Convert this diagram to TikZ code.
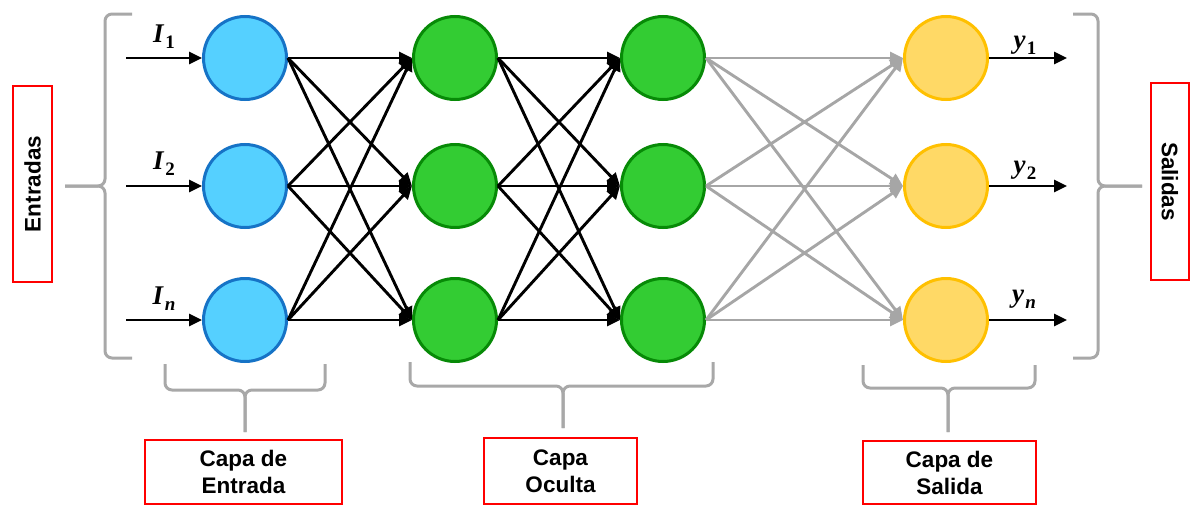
\documentclass[tikz,border=0pt]{standalone}
\usepackage[no-math]{fontspec}
\setmainfont{Liberation Sans}
\newfontfamily\mlfont{Liberation Serif}
\usetikzlibrary{arrows.meta}
\definecolor{inFill}{HTML}{55D0FF}
\definecolor{inDraw}{HTML}{1673C6}
\definecolor{hidFill}{HTML}{33CC33}
\definecolor{hidDraw}{HTML}{078A07}
\definecolor{outFill}{HTML}{FFD966}
\definecolor{outDraw}{HTML}{FFC000}
\definecolor{greyC}{HTML}{A6A6A6}
\definecolor{braceC}{HTML}{A8A8A8}
\newcommand{\mysubl}[2]{\textit{#1}\kern1pt\raisebox{-6pt}{\fontsize{19}{20}\selectfont #2}}
\begin{document}
\begin{tikzpicture}[x=1pt,y=-1pt,
  neuron/.style={circle, minimum size=83pt, inner sep=0pt, line width=3pt},
  inn/.style={neuron, fill=inFill, draw=inDraw},
  hid/.style={neuron, fill=hidFill, draw=hidDraw},
  outn/.style={neuron, fill=outFill, draw=outDraw},
  conn/.style={line width=2.9pt, -{Triangle[length=13pt,width=12pt]}},
  gconn/.style={conn, draw=greyC},
  brace/.style={draw=braceC, line width=3pt, rounded corners=7pt},
  lbl/.style={draw=red, line width=1.3pt, font=\bfseries\fontsize{22.5}{27}\selectfont, align=center, inner sep=0pt},
  mlab/.style={font=\mlfont\bfseries\fontsize{27}{30}\selectfont, anchor=base, inner sep=0pt}
]
\useasboundingbox (0,0) rectangle (1194,506);
% braces
\draw[brace] (132,14) -- (105,14) -- (105,186) -- (65,186);
\draw[brace] (65,186) -- (105,186) -- (105,358) -- (132,358);
\draw[brace] (1073,14) -- (1098,14) -- (1098,186) -- (1142,186);
\draw[brace] (1142,186) -- (1098,186) -- (1098,358) -- (1073,358);
\draw[brace] (165,364) -- (165,390) -- (245,390) -- (245,432);
\draw[brace] (325,364) -- (325,390) -- (245,390) -- (245,432);
\draw[brace] (410,362) -- (410,386) -- (563,386) -- (563,428);
\draw[brace] (713,362) -- (713,386) -- (563,386) -- (563,428);
\draw[brace] (863,365) -- (863,388) -- (948,388) -- (948,432);
\draw[brace] (1035,365) -- (1035,388) -- (948,388) -- (948,432);
% neurons
\foreach \i/\y in {1/58,2/186,3/320}{
  \node[inn] (a\i) at (245,\y) {};
  \node[hid] (b\i) at (455,\y) {};
  \node[hid] (c\i) at (663,\y) {};
  \node[outn] (d\i) at (946,\y) {};
  \coordinate (s\i) at (126,\y);
  \coordinate (e\i) at (1067,\y);
}
% connections
\foreach \i in {1,2,3}{
  \foreach \j in {1,2,3}{
    \draw[conn] (a\i.east) -- (b\j.west);
    \draw[conn] (b\i.east) -- (c\j.west);
    \draw[gconn] (c\i.east) -- (d\j.west);
  }
  \draw[conn] (s\i) -- (a\i.west);
  \draw[conn] (d\i.east) -- (e\i);
}
% labels
\node[mlab] (li1) at (164,42) {\mysubl{I}{1}};
\node[mlab] (li2) at (164,169) {\mysubl{I}{2}};
\node[mlab] (li3) at (164,304) {\mysubl{I}{\textit{n}}};
\node[mlab] (ly1) at (1025,48) {\mysubl{y}{1}};
\node[mlab] (ly2) at (1025,173) {\mysubl{y}{2}};
\node[mlab] (ly3) at (1024,302) {\mysubl{y}{\textit{n}}};
% text boxes
\node[lbl, rotate=90, minimum width=196pt, minimum height=39pt] (ent) at (32.5,184) {Entradas};
\node[lbl, rotate=-90, minimum width=197pt, minimum height=38pt] (sal) at (1170,181.5) {Salidas};
\node[lbl, minimum width=197pt, minimum height=64pt] (ce) at (243.5,472) {Capa de\\Entrada};
\node[lbl, minimum width=153pt, minimum height=66pt] (co) at (560.5,471) {Capa\\Oculta};
\node[lbl, minimum width=173pt, minimum height=63pt] (cs) at (949.5,472.5) {Capa de\\Salida};
\end{tikzpicture}
\end{document}
